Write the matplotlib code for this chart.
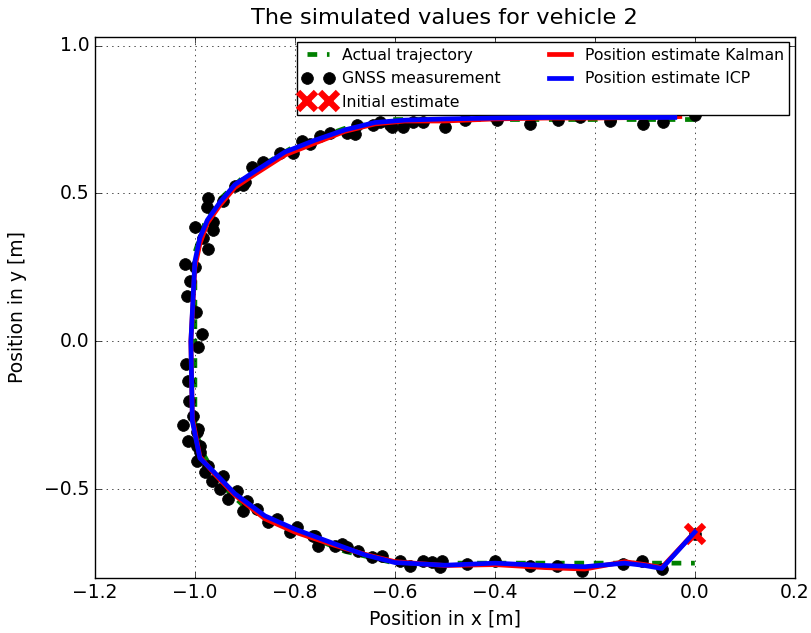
import matplotlib
matplotlib.use("Agg")
from matplotlib import pyplot as plt

plt.style.use('classic')
plt.rcParams['font.size'] = 13.5
plt.rcParams['xtick.major.size'] = 4.5
plt.rcParams['ytick.major.size'] = 4.5

# actual trajectory (waypoints)
true_x = [0.0, -0.2, -0.4, -0.6, -0.7, -0.8, -0.9, -0.95, -0.98, -1.0, -1.0,
          -0.98, -0.95, -0.9, -0.8, -0.7, -0.6, -0.4, -0.2, 0.0]
true_y = [0.75, 0.75, 0.75, 0.75, 0.72, 0.66, 0.56, 0.48, 0.40, 0.30, -0.30,
          -0.39, -0.48, -0.56, -0.64, -0.71, -0.75, -0.75, -0.75, -0.75]

# GNSS measurements
gnss_x = [0.0, -0.066, -0.106, -0.144, -0.226, -0.276, -0.33, -0.4, -0.456, -0.506,
          -0.51, -0.526, -0.544, -0.57, -0.59, -0.626, -0.646, -0.674, -0.696, -0.706,
          -0.72, -0.754, -0.764, -0.76, -0.796, -0.81, -0.836, -0.854, -0.876, -0.904,
          -0.896, -0.934, -0.916, -0.95, -0.966, -0.944, -0.98, -0.974, -0.996, -0.99,
          -0.996, -0.99, -0.996, -1.014, -0.994, -1.024, -1.004, -1.012, -1.014, -1.018,
          -0.994, -0.986, -0.998, -1.016, -1.01, -1.0, -1.02, -0.974, -0.984, -0.964,
          -1.0, -0.964, -0.976, -0.974, -0.944, -0.904, -0.92, -0.9, -0.886, -0.864,
          -0.83, -0.804, -0.786, -0.77, -0.75, -0.73, -0.696, -0.68, -0.676, -0.644,
          -0.61, -0.63, -0.606, -0.584, -0.564, -0.544, -0.5, -0.46, -0.396, -0.33,
          -0.274, -0.23, -0.17, -0.104, -0.064, 0.0]
gnss_y = [-0.652, -0.77, -0.743, -0.753, -0.777, -0.76, -0.76, -0.743, -0.753, -0.743,
          -0.764, -0.747, -0.743, -0.76, -0.743, -0.726, -0.73, -0.709, -0.696, -0.686,
          -0.693, -0.693, -0.659, -0.659, -0.628, -0.645, -0.601, -0.611, -0.568, -0.574,
          -0.541, -0.534, -0.507, -0.5, -0.473, -0.456, -0.443, -0.422, -0.405, -0.355,
          -0.307, -0.375, -0.355, -0.338, -0.297, -0.284, -0.253, -0.203, -0.135, -0.078,
          -0.02, 0.024, 0.098, 0.152, 0.203, 0.25, 0.26, 0.311, 0.351, 0.378,
          0.385, 0.405, 0.453, 0.486, 0.473, 0.53, 0.524, 0.54, 0.591, 0.605,
          0.638, 0.638, 0.676, 0.666, 0.693, 0.706, 0.706, 0.70, 0.733, 0.733,
          0.733, 0.74, 0.726, 0.726, 0.74, 0.743, 0.726, 0.75, 0.747, 0.736,
          0.75, 0.757, 0.745, 0.736, 0.743, 0.764]

# initial estimate
init_x = [0.0]
init_y = [-0.65]

# Kalman estimate
kal_x = [0.0, -0.066, -0.1, -0.14, -0.22, -0.3, -0.4, -0.5, -0.6, -0.66, -0.72, -0.8,
         -0.86, -0.92, -0.96, -0.99, -1.005, -1.008, -1.0, -0.99, -0.975, -0.95, -0.92,
         -0.88, -0.82, -0.76, -0.7, -0.64, -0.58, -0.5, -0.4, -0.3, -0.2, -0.1, -0.03]
kal_y = [-0.645, -0.765, -0.755, -0.745, -0.77, -0.765, -0.755, -0.758, -0.745, -0.72,
         -0.69, -0.645, -0.60, -0.52, -0.45, -0.39, -0.26, 0.0, 0.25, 0.33, 0.40,
         0.46, 0.52, 0.565, 0.63, 0.67, 0.71, 0.735, 0.745, 0.745, 0.752, 0.755,
         0.755, 0.757, 0.76]

# ICP estimate
icp_x = [0.0, -0.066, -0.1, -0.14, -0.22, -0.3, -0.4, -0.5, -0.6, -0.66, -0.72, -0.8,
         -0.86, -0.92, -0.96, -0.99, -1.005, -1.008, -1.0, -0.99, -0.975, -0.95, -0.92,
         -0.88, -0.82, -0.76, -0.7, -0.64, -0.58, -0.5, -0.4, -0.3, -0.2, -0.1, -0.04]
icp_y = [-0.645, -0.768, -0.758, -0.75, -0.762, -0.758, -0.75, -0.757, -0.748, -0.722,
         -0.685, -0.635, -0.59, -0.515, -0.445, -0.395, -0.27, 0.0, 0.27, 0.35, 0.41,
         0.47, 0.53, 0.575, 0.64, 0.68, 0.715, 0.74, 0.748, 0.752, 0.755, 0.757,
         0.757, 0.757, 0.757]

fig = plt.figure(figsize=(8.11, 6.33), dpi=100, facecolor='white')
ax = fig.add_axes([0.117, 0.087, 0.863, 0.855])

ax.plot(true_x, true_y, 'g--', linewidth=3.4, dashes=(7, 7), label='Actual trajectory', zorder=2)
ax.plot(gnss_x, gnss_y, 'ko', markersize=8.5, label='GNSS measurement', zorder=3)
ax.plot(init_x, init_y, 'rx', markersize=13, markeredgewidth=4.5, label='Initial estimate', zorder=4)
ax.plot(kal_x, kal_y, 'r-', linewidth=3.4, label='Position estimate Kalman', zorder=5)
ax.plot(icp_x, icp_y, 'b-', linewidth=3.4, label='Position estimate ICP', zorder=6)

ax.set_xlim(-1.2, 0.2)
ax.set_ylim(-0.8, 1.03)
ax.set_yticks([-0.5, 0.0, 0.5, 1.0])
ax.set_xlabel('Position in x [m]')
ax.set_ylabel('Position in y [m]', labelpad=12)
ax.set_title('The simulated values for vehicle 2', fontsize=16.2, pad=9)
ax.grid(True)
ax.legend(loc='upper right', ncol=2, numpoints=2, fontsize=11.3,
          borderaxespad=0.35, handlelength=2, columnspacing=2.8,
          handletextpad=0.55, borderpad=0.35, labelspacing=0.55)

plt.savefig('out.png', dpi=100, facecolor='white')
